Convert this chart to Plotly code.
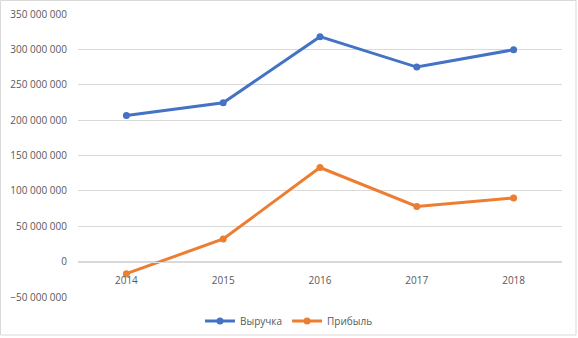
import plotly.graph_objects as go

years = ["2014", "2015", "2016", "2017", "2018"]
revenue = [206500000, 224500000, 318000000, 275000000, 299500000]
profit = [-17000000, 32000000, 133000000, 78000000, 90000000]
names = ["Выручка", "Прибыль"]
colors = ["#4472C4", "#ED7D31"]

W, H = 578, 338
L, R, T, B = 78, 16, 14, 41
ymin, ymax = -50000000, 350000000
pw, ph = W - L - R, H - T - B

fig = go.Figure()
for name, vals, c in zip(names, [revenue, profit], colors):
    fig.add_trace(go.Scatter(
        x=years, y=vals, name=name, mode="lines+markers",
        line=dict(color=c, width=3),
        marker=dict(color=c, size=7, symbol="circle"),
    ))

zero_pos = (0 - ymin) / (ymax - ymin)

fig.update_layout(
    width=W, height=H,
    margin=dict(l=L, r=R, t=T, b=B, autoexpand=False),
    paper_bgcolor="white", plot_bgcolor="white",
    separators=". ",
    font=dict(family="Open Sans, Liberation Sans, sans-serif", size=10, color="#595959"),
    showlegend=True,
    legend=dict(orientation="h", x=(W / 2 - L) / pw, xanchor="center",
                y=(H - B - 321) / ph, yanchor="middle", bgcolor="rgba(0,0,0,0)",
                font=dict(size=10, color="#595959"), itemwidth=30),
    xaxis=dict(type="category", range=[-0.5, 4.5], showgrid=False,
               anchor="free", position=zero_pos, automargin=False,
               showline=True, linecolor="#D9D9D9", linewidth=1,
               ticks="", ticklabelstandoff=9, zeroline=False),
    yaxis=dict(range=[ymin, ymax], dtick=50000000, tickformat=",d",
               showgrid=True, gridcolor="#D9D9D9", gridwidth=1,
               zeroline=False, showline=False, ticks="", automargin=False,
               ticklabelstandoff=10),
    shapes=[dict(type="rect", xref="paper", yref="paper",
                 x0=(0.5 - L) / pw, x1=(576 - L) / pw,
                 y0=(H - B - 335) / ph, y1=(H - B - 0.5) / ph,
                 line=dict(color="#D9D9D9", width=1), layer="above")],
)

fig.write_html("out.html", config={"displayModeBar": False},
               post_script="document.body.style.margin='0';")
